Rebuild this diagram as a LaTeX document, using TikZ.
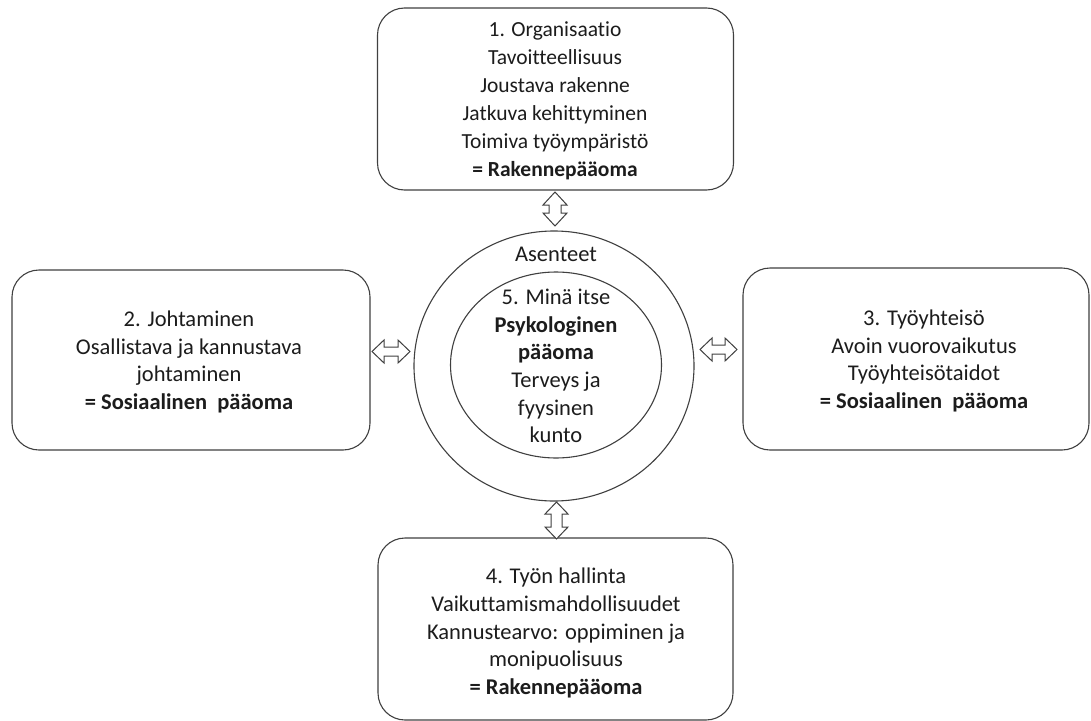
\documentclass[tikz,border=0pt]{standalone}
\usepackage{fontspec}
\setmainfont{Carlito}[Ligatures=NoCommon]
\usetikzlibrary{shapes.geometric}
\definecolor{ln}{HTML}{404040}
\definecolor{tx}{HTML}{1C1C1C}
\begin{document}
\begin{tikzpicture}[x=1pt,y=-1pt,
  boxstyle/.style={draw=ln, line width=1.1pt, rounded corners=27pt, inner sep=0pt},
  txt/.style={text=tx, align=center, inner sep=0pt, font=\fontsize{22.5}{27.6}\selectfont},
  txtsmall/.style={text=tx, align=center, inner sep=0pt, font=\fontsize{21.5}{28}\selectfont},
  ring/.style={draw=ln, line width=1.1pt, ellipse, inner sep=0pt},
  blockarrow/.style={draw=ln, fill=white, line width=1pt, line join=miter}
]
\useasboundingbox (0,0) rectangle (1091,720);
\fill[white] (0,0) rectangle (1091,720);

% boxes
\node[boxstyle, minimum width=356pt, minimum height=182pt] (b1) at (555.5,99) {};
\node[boxstyle, minimum width=358pt, minimum height=180pt] (b2) at (191,360) {};
\node[boxstyle, minimum width=346pt, minimum height=182pt] (b3) at (916,359) {};
\node[boxstyle, minimum width=355pt, minimum height=182pt] (b4) at (555.5,629) {};

% rings
\node[ring, minimum width=280pt, minimum height=270pt] (outer) at (554,366) {};
\node[ring, minimum width=211pt, minimum height=186pt] (inner) at (556,365) {};

% texts
\node[txtsmall] (t1) at (555,101) {1. Organisaatio\\Tavoitteellisuus\\Joustava rakenne\\Jatkuva kehittyminen\\Toimiva työympäristö\\\textbf{= Rakennepääoma}};
\node[txt] (t2) at (189,362) {2. Johtaminen\\Osallistava ja kannustava\\johtaminen\\\textbf{= Sosiaalinen\ \ pääoma}};
\node[txt] (t3) at (924,361) {3. Työyhteisö\\Avoin vuorovaikutus\\Työyhteisötaidot\\\textbf{= Sosiaalinen\ \ pääoma}};
\node[txt] (t4) at (556,633) {4. Työn hallinta\\Vaikuttamismahdollisuudet\\Kannustearvo: oppiminen ja\\monipuolisuus\\\textbf{= Rakennepääoma}};
\node[txt] (asenteet) at (556,254) {Asenteet};
\node[txt] (t5) at (556,366) {5. Minä itse\\\textbf{Psykologinen}\\\textbf{pääoma}\\Terveys ja\\fyysinen\\kunto};

% block arrows (double-headed)
% top: between b1 and outer
\draw[blockarrow] (555,192) -- (567,205) -- (561,205) -- (561,213) -- (567,213) -- (555,226)
  -- (543,213) -- (549,213) -- (549,205) -- (543,205) -- cycle;
% bottom: between outer and b4
\draw[blockarrow] (556.5,502) -- (568,514) -- (562,514) -- (562,527) -- (568,527) -- (556.5,539)
  -- (545,527) -- (551,527) -- (551,514) -- (545,514) -- cycle;
% left: between b2 and outer
\draw[blockarrow] (372,351.5) -- (384,340) -- (384,347) -- (398,347) -- (398,340) -- (410,351.5)
  -- (398,363) -- (398,356) -- (384,356) -- (384,363) -- cycle;
% right: between outer and b3
\draw[blockarrow] (700,349.5) -- (712,338) -- (712,345) -- (725,345) -- (725,338) -- (737,349.5)
  -- (725,361) -- (725,354) -- (712,354) -- (712,361) -- cycle;
\end{tikzpicture}
\end{document}
